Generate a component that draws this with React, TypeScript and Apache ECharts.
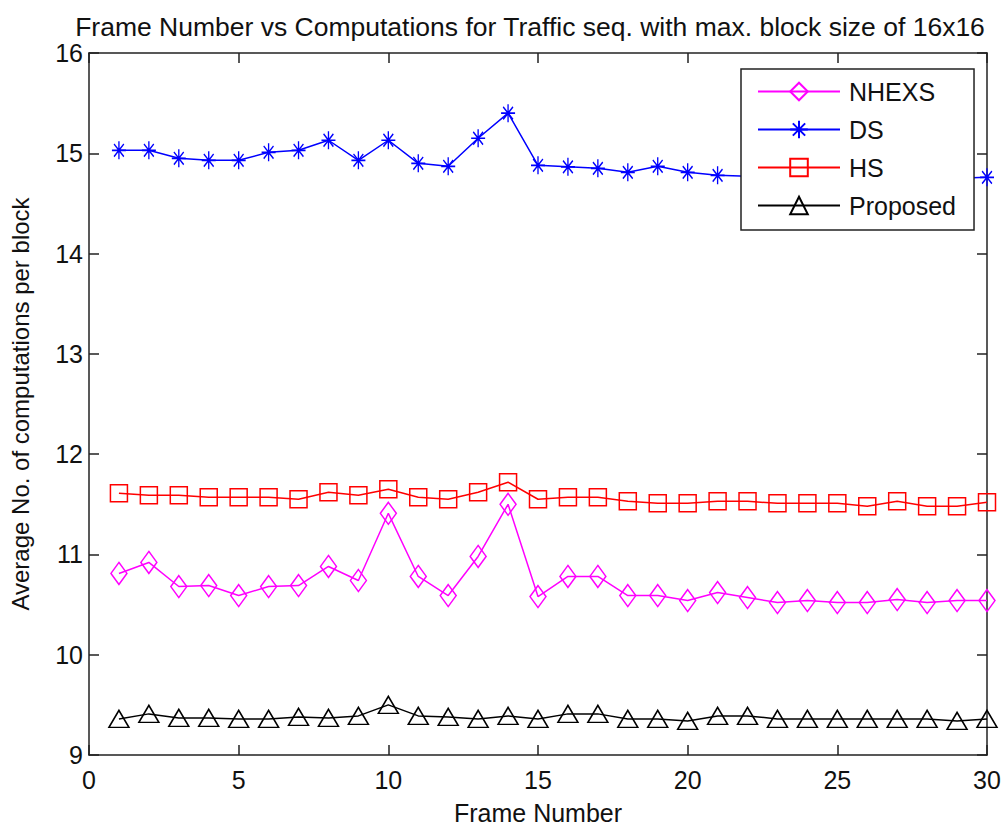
import React, { useEffect, useRef } from 'react';
import * as echarts from 'echarts';

// Frame indices on the x axis
const frames = [1, 2, 3, 4, 5, 6, 7, 8, 9, 10, 11, 12, 13, 14, 15, 16, 17, 18, 19, 20, 21, 22, 23, 24, 25, 26, 27, 28, 29, 30];

// Average number of computations per block, one value per frame
const nhexs = [10.81, 10.92, 10.68, 10.69, 10.59, 10.68, 10.69, 10.88, 10.74, 11.41, 10.78, 10.59, 10.98, 11.5, 10.58, 10.78, 10.78, 10.59, 10.59, 10.54, 10.62, 10.57, 10.52, 10.54, 10.52, 10.52, 10.55, 10.52, 10.54, 10.54];
const ds = [15.03, 15.03, 14.95, 14.93, 14.93, 15.01, 15.03, 15.13, 14.93, 15.13, 14.9, 14.87, 15.15, 15.4, 14.88, 14.865, 14.85, 14.81, 14.87, 14.81, 14.78, 14.77, 14.76, 14.76, 14.75, 14.76, 14.75, 14.76, 14.75, 14.76];
const hs = [11.61, 11.59, 11.59, 11.57, 11.57, 11.57, 11.55, 11.62, 11.59, 11.65, 11.57, 11.55, 11.62, 11.72, 11.55, 11.57, 11.57, 11.53, 11.51, 11.51, 11.53, 11.53, 11.51, 11.51, 11.51, 11.48, 11.53, 11.48, 11.48, 11.52];
const proposed = [9.36, 9.41, 9.37, 9.37, 9.36, 9.36, 9.38, 9.37, 9.39, 9.5, 9.39, 9.38, 9.36, 9.39, 9.36, 9.41, 9.41, 9.36, 9.36, 9.34, 9.39, 9.39, 9.36, 9.36, 9.36, 9.36, 9.36, 9.36, 9.34, 9.36];

const yTicks = { min: 9, max: 16, interval: 1 };
const xTicks = { min: 0, max: 30, interval: 5 };

const FONT = '"Liberation Sans", Arial, sans-serif';
const AXIS_COLOR = '#222';
const TEXT_COLOR = '#111';

// MATLAB-style asterisk marker: plus and cross strokes
const ASTERISK = 'path://M10 0 L10 20 M0 10 L20 10 M3 3 L17 17 M3 17 L17 3';

const pairs = (vals: number[]) => frames.map((f, i) => [f, vals[i]]);

const axisLine = { show: true, onZero: false, lineStyle: { color: AXIS_COLOR, width: 1.5 } };
const axisTick = { show: true, inside: true, length: 10, lineStyle: { color: AXIS_COLOR, width: 1.5 } };
const labelStyle = { fontFamily: FONT, fontSize: 25, color: TEXT_COLOR };

function makeSeries(name: string, vals: number[], color: string, symbol: string, size: number | number[], filled: boolean) {
  return {
    name,
    type: 'line',
    data: pairs(vals),
    symbol,
    symbolSize: size,
    showSymbol: true,
    lineStyle: { color, width: 1.5 },
    itemStyle: {
      color: filled ? color : 'rgba(255,255,255,0)',
      borderColor: color,
      borderWidth: 1.5,
    },
    emphasis: { disabled: true },
  };
}

export default function App() {
  const ref = useRef<HTMLDivElement>(null);

  useEffect(() => {
    if (!ref.current) return;
    const chart = echarts.init(ref.current, undefined, { renderer: 'svg' });
    chart.setOption({
      animation: false,
      backgroundColor: '#fff',
      title: {
        text: 'Frame Number vs Computations for Traffic seq. with max. block size of 16x16',
        left: 525,
        top: 8,
        textAlign: 'center',
        textStyle: { fontFamily: FONT, fontSize: 26.5, fontWeight: 'normal', color: TEXT_COLOR },
      },
      legend: {
        orient: 'vertical',
        left: 741,
        top: 69,
        itemWidth: 82,
        itemHeight: 22,
        itemGap: 13,
        padding: [10, 18, 12, 16],
        backgroundColor: '#fff',
        borderColor: AXIS_COLOR,
        borderWidth: 1.5,
        borderRadius: 0,
        textStyle: { fontFamily: FONT, fontSize: 25, color: TEXT_COLOR, padding: [0, 0, 0, 4] },
        data: ['NHEXS', 'DS', 'HS', 'Proposed'],
      },
      grid: { left: 89, right: 17, top: 53, bottom: 72 },
      xAxis: [
        {
          type: 'value',
          position: 'bottom',
          ...xTicks,
          name: 'Frame Number',
          nameLocation: 'middle',
          nameGap: 45,
          nameTextStyle: { fontFamily: FONT, fontSize: 25, color: TEXT_COLOR },
          axisLine,
          axisTick,
          axisLabel: { ...labelStyle, margin: 12 },
          splitLine: { show: false },
        },
        {
          type: 'value',
          position: 'top',
          ...xTicks,
          axisLine,
          axisTick,
          axisLabel: { show: false },
          splitLine: { show: false },
        },
      ],
      yAxis: [
        {
          type: 'value',
          position: 'left',
          ...yTicks,
          name: 'Average No. of computations per block',
          nameLocation: 'middle',
          nameGap: 57,
          nameTextStyle: { fontFamily: FONT, fontSize: 24, color: TEXT_COLOR },
          axisLine,
          axisTick,
          axisLabel: { ...labelStyle, margin: 6 },
          splitLine: { show: false },
        },
        {
          type: 'value',
          position: 'right',
          ...yTicks,
          axisLine,
          axisTick,
          axisLabel: { show: false },
          splitLine: { show: false },
        },
      ],
      series: [
        makeSeries('NHEXS', nhexs, '#ff00ff', 'diamond', [16, 22], false),
        makeSeries('DS', ds, '#0000ff', ASTERISK, [14, 18], true),
        makeSeries('HS', hs, '#ff0000', 'rect', [17, 17], false),
        makeSeries('Proposed', proposed, '#000000', 'triangle', [20, 17], false),
      ],
    });
    return () => chart.dispose();
  }, []);

  return (
    <div
      ref={ref}
      style={{ position: 'fixed', left: 0, top: 0, width: 1004, height: 830, background: '#fff' }}
    />
  );
}
